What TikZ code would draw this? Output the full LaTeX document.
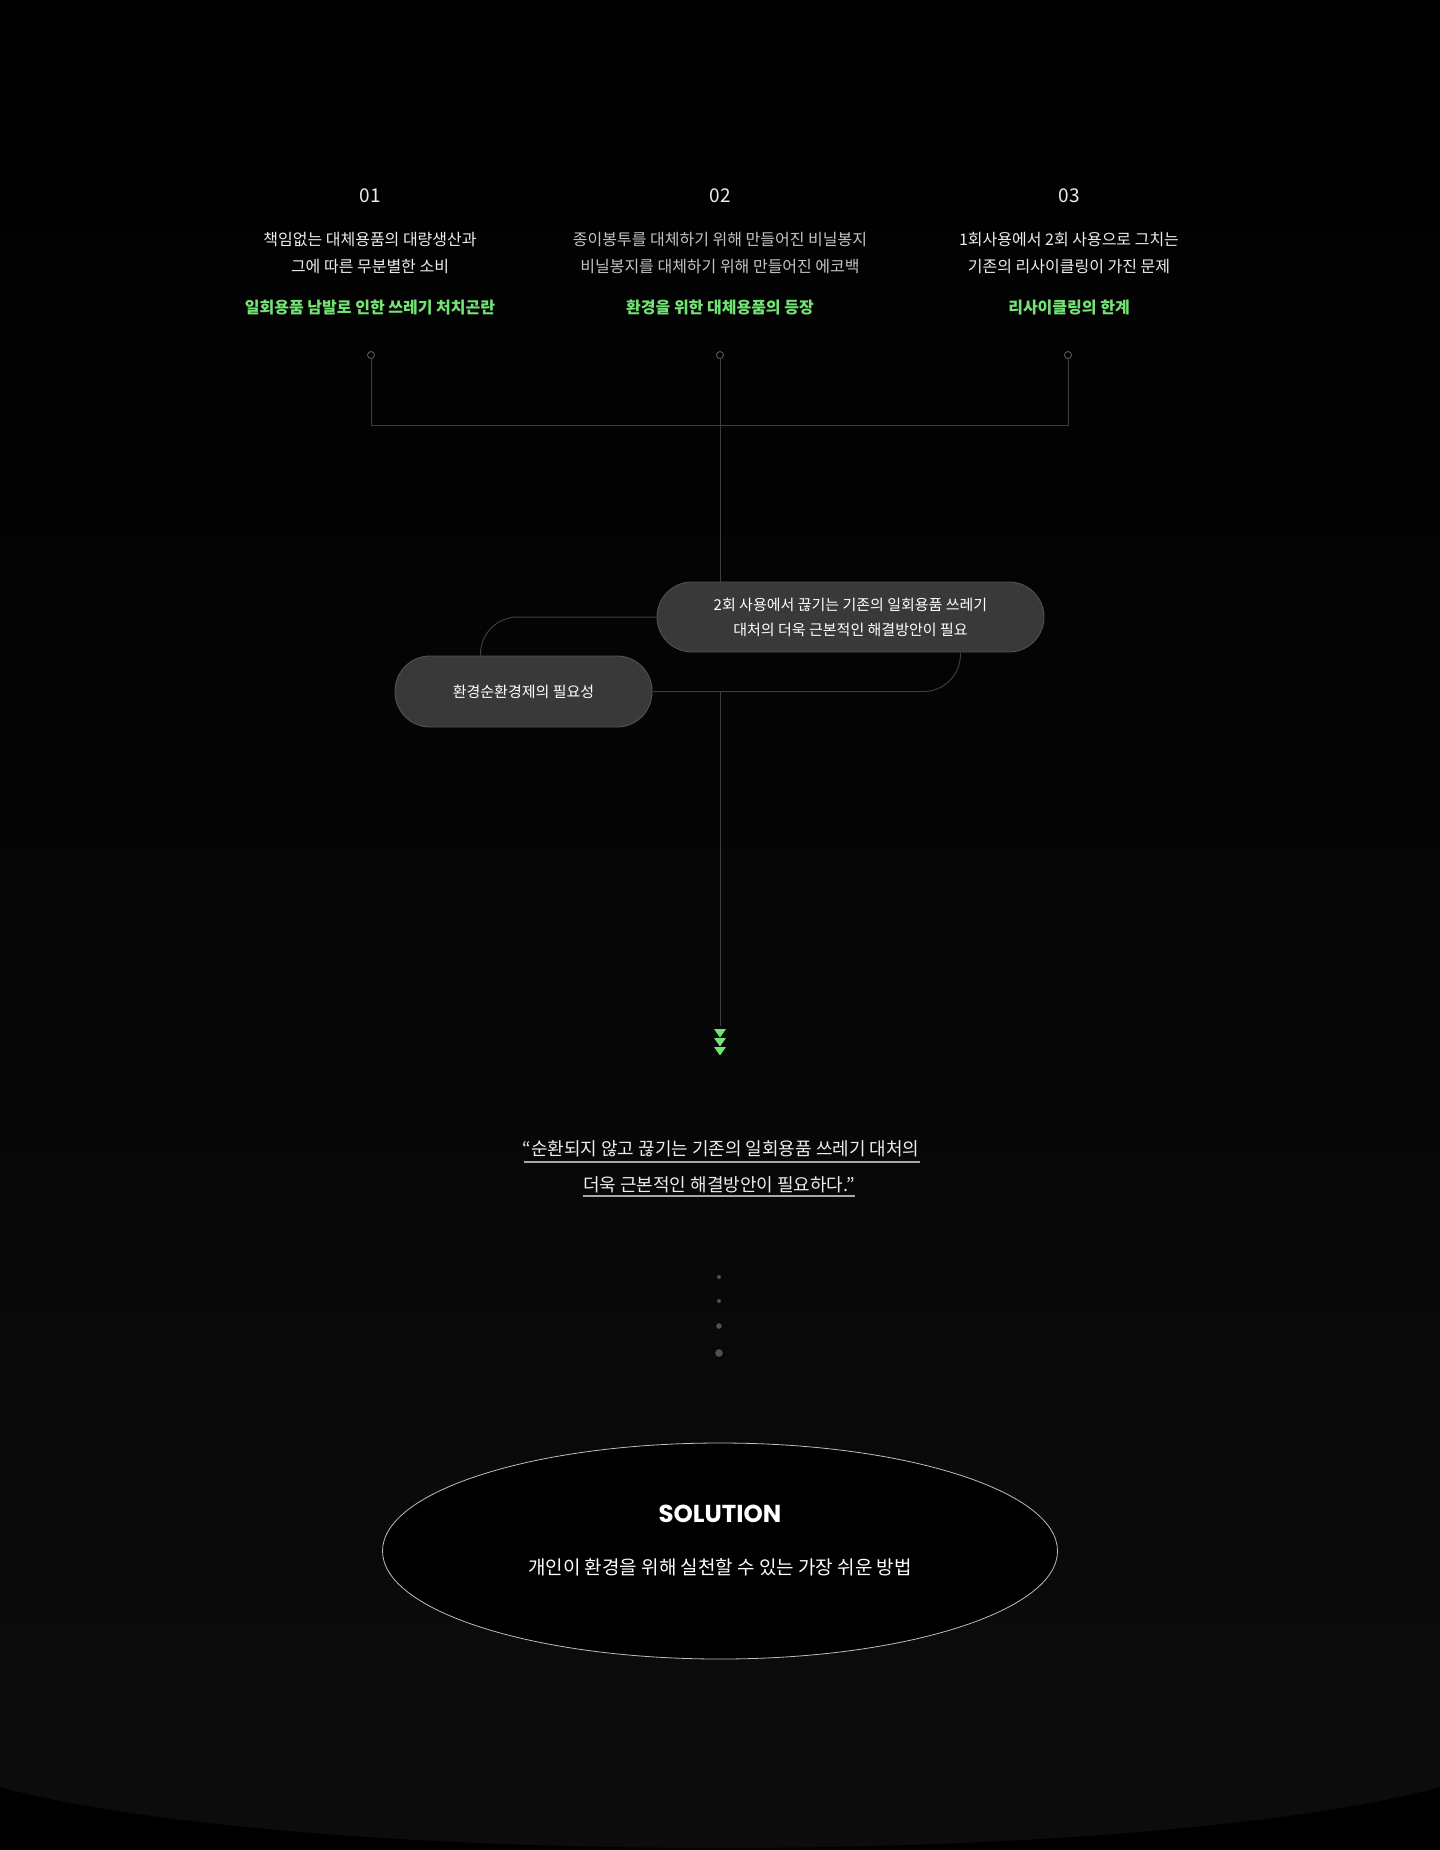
\documentclass[tikz,border=0pt]{standalone}
\usepackage{fontspec}
\setmainfont{Noto Sans CJK KR}
\newfontfamily\popfont{Poppins}
\usetikzlibrary{calc,shapes.geometric}
\definecolor{bgbot}{HTML}{0C0C0C}
\definecolor{txtw}{HTML}{EDEDED}
\definecolor{txtg}{HTML}{C4C4C4}
\definecolor{hlgreen}{RGB}{114,228,116}
\definecolor{linec}{HTML}{3E3E3E}
\definecolor{dotline}{HTML}{5A5A5A}
\definecolor{pillfill}{HTML}{393939}
\definecolor{pilledge}{HTML}{525252}
\definecolor{ulc}{HTML}{A8A8A8}
\definecolor{ellc}{HTML}{BDBDBD}
\definecolor{dotc}{HTML}{505050}
\begin{document}
\begin{tikzpicture}[x=1pt,y=-1pt,
  txt/.style={inner sep=0pt, anchor=base},
  numtxt/.style={txt, text=txtw, font=\fontsize{19}{19}\selectfont},
  desctxt/.style={txt, text=txtw, font=\fontsize{16}{16}\selectfont},
  desctxtg/.style={txt, text=txtg, font=\fontsize{16}{16}\selectfont},
  greentxt/.style={txt, text=hlgreen, font=\fontsize{16}{16}\selectfont\bfseries},
  conn/.style={draw=linec, line width=1pt},
  ringdot/.style={circle, draw=dotline, fill=black, line width=0.9pt, minimum size=7pt, inner sep=0pt},
  pill/.style={draw=pilledge, fill=pillfill, line width=0.9pt, rounded corners=35pt, text=white, align=center, inner sep=0pt, font=\fontsize{15}{25}\selectfont},
  quotetxt/.style={txt, text=txtw, font=\fontsize{18}{18}\selectfont},
  uline/.style={draw=ulc, line width=1.5pt},
  tri/.style={fill=hlgreen},
  sdot/.style={fill=dotc}
]
\useasboundingbox (0,0) rectangle (1440,1850);
% background
\shade[top color=black, bottom color=bgbot] (0,0) rectangle (1440,1850);
\begin{scope}
  \clip (0,1700) rectangle (1440,1850);
  \fill[black, even odd rule] (-200,1600) rectangle (1640,1900) (720,1740) ellipse [x radius=800pt, y radius=108pt];
\end{scope}

% column texts
\node[numtxt] (n1) at (370,202) {01};
\node[numtxt] (n2) at (720,202) {02};
\node[numtxt] (n3) at (1069,202) {03};

\node[desctxt] (a1) at (370,245) {책임없는 대체용품의 대량생산과};
\node[desctxt] (a2) at (370,272) {그에 따른 무분별한 소비};
\node[greentxt] (g1) at (370,313.5) {일회용품 남발로 인한 쓰레기 처치곤란};

\node[desctxtg] (b1) at (720,245) {종이봉투를 대체하기 위해 만들어진 비닐봉지};
\node[desctxtg] (b2) at (720,272) {비닐봉지를 대체하기 위해 만들어진 에코백};
\node[greentxt] (g2) at (720,313.5) {환경을 위한 대체용품의 등장};

\node[desctxt] (c1) at (1069,245) {1회사용에서 2회 사용으로 그치는};
\node[desctxt] (c2) at (1069,272) {기존의 리사이클링이 가진 문제};
\node[greentxt] (g3) at (1069,313.5) {리사이클링의 한계};

% small ring dots
\node[ringdot] (d1) at (371,355) {};
\node[ringdot] (d2) at (720,355) {};
\node[ringdot] (d3) at (1068,355) {};
\coordinate (hline) at (720,425);

% pills
\node[pill, minimum width=387pt, minimum height=70pt] (pill1) at (850.5,617) {2회 사용에서 끊기는 기존의 일회용품 쓰레기\\대처의 더욱 근본적인 해결방안이 필요};
\node[pill, minimum width=257pt, minimum height=71pt] (pill2) at (523.5,691.5) {환경순환경제의 필요성};

% arrow triangles
\coordinate (arrtop) at (720,1026);
\fill[tri] (714,1029) -- (726,1029) -- (720,1037.5) -- cycle;
\fill[tri] (714,1038) -- (726,1038) -- (720,1046.5) -- cycle;
\fill[tri] (714,1047) -- (726,1047) -- (720,1055.5) -- cycle;

% connectors
\draw[conn] (d1.south) -- (d1 |- hline) -- (d3 |- hline) -- (d3.south);
\draw[conn] (d2.south) -- (d2 |- pill1.north);
\draw[conn, rounded corners=37pt] (pill1.west) -| ([xshift=86pt]pill2.north west);
\draw[conn, rounded corners=37pt] (pill2.east) -| ([xshift=-84pt]pill1.south east);
\draw[conn] (d2 |- pill2.east) -- (arrtop);

% quote
\node[quotetxt] (q1) at (721,1155.7) {“순환되지 않고 끊기는 기존의 일회용품 쓰레기 대처의};
\node[quotetxt] (q2) at (719,1191.7) {더욱 근본적인 해결방안이 필요하다.”};
\draw[uline] ($(q1.base west)+(2,6.5)$) -- ($(q1.base east)+(0,6.5)$);
\draw[uline] ($(q2.base west)+(0,4.5)$) -- ($(q2.base east)+(0,4.5)$);

% dots
\fill[sdot] (719,1277) circle (2pt);
\fill[sdot] (719,1301) circle (2pt);
\fill[sdot] (719,1326) circle (2.8pt);
\fill[sdot] (719,1353) circle (3.8pt);

% solution ellipse
\node[ellipse, draw=ellc, fill=black, line width=0.8pt, minimum width=675pt, minimum height=216pt, inner sep=0pt] (sol) at (720,1551) {};
\node[txt, text=white, font=\popfont\bfseries\fontsize{24.5}{24.5}\selectfont] (soltitle) at (720,1522.5) {SOLUTION};
\node[txt, text=white, font=\fontsize{19}{19}\selectfont] (solsub) at (720,1574) {개인이 환경을 위해 실천할 수 있는 가장 쉬운 방법};
\end{tikzpicture}
\end{document}
